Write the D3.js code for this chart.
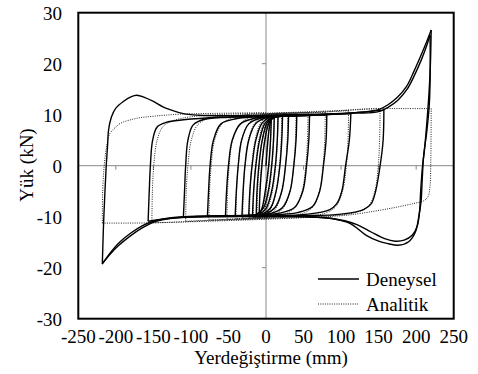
<!DOCTYPE html>
<html>
<head>
<meta charset="utf-8">
<script src="https://cdn.jsdelivr.net/npm/d3@7"></script>
<style>
body{margin:0;background:#fff}
</style>
</head>
<body>
<svg id="chart" width="478" height="374"></svg>
<script>
var width = 478, height = 374;
var plot = {left: 78.3, right: 453.7, top: 12.7, bottom: 318.7};
var font = "'Liberation Serif'";

var xTicks = [-250,-200,-150,-100,-50,0,50,100,150,200,250];
var yTicks = [-30,-20,-10,0,10,20,30];
var seriesNames = ["Deneysel","Analitik"];

// deneysel (experimental) branches, [displacement mm, load kN]
var deneysel = [
 [[0,0],[2,4],[4.5,7.5],[7,9.2]],
 [[7,9.2],[6,5],[3.5,0],[-1,-5],[-5,-8.2],[-9,-9.5]],
 [[-9,-9.5],[-8,-5],[-5.5,0],[-1.5,5],[4,8.4],[11,9.5]],
 [[11,9.5],[10,5],[7.5,0],[3,-5],[-3.5,-8.3],[-13,-9.6]],
 [[-13,-9.6],[-12,-5],[-9.5,0],[-5,5],[1.5,8.4],[8,9.3],[16,9.6]],
 [[16,9.6],[15,5],[12.5,0],[7.5,-5],[0,-8.4],[-8,-9.4],[-18,-9.7]],
 [[-18,-9.7],[-16.5,-5],[-13.5,0],[-8.5,5],[-1,8.4],[8,9.4],[22,9.7]],
 [[22,9.7],[21,5],[18.5,0],[13.5,-5],[6,-8.3],[-4,-9.4],[-23,-9.8]],
 [[-23,-9.8],[-21.5,-5],[-18.5,0],[-13.5,5],[-5.5,8.3],[4,9.4],[30,9.8]],
 [[30,9.8],[29,5],[26,0],[21,-5],[12,-8.2],[0,-9.4],[-32,-9.8]],
 [[-32,-9.8],[-30.5,-5],[-28,0],[-23,5],[-14,8.2],[0,9.4],[41,9.8]],
 [[41,9.8],[40,5],[37,0],[32,-5],[22,-8.2],[8,-9.3],[-20,-9.7],[-41,-9.8]],
 [[-41,-9.8],[-39.5,-5],[-37,0],[-32.5,5],[-23,8.2],[-8,9.3],[20,9.7],[58,9.9]],
 [[58,9.9],[57,5],[54,0],[49,-5],[38,-8.2],[18,-9.3],[-20,-9.7],[-54,-9.9]],
 [[-54,-9.9],[-52.5,-5],[-50,0],[-45,5],[-34,8.2],[-15,9.3],[20,9.7],[81,10]],
 [[81,10],[80,5],[76.5,0],[71.5,-5],[62,-8],[42,-9.2],[0,-9.7],[-78,-9.9]],
 [[-78,-9.9],[-76.5,-5],[-74.5,0],[-70,5],[-60,8.2],[-40,9.2],[0,9.7],[60,9.9],[113,10.2]],
 [[113,10.2],[111,5],[106,0],[101,-5],[94,-7.5],[85,-8.6],[56,-9.5],[0,-9.8],[-60,-9.8],[-110,-10]],
 [[-110,-10],[-108.5,-5],[-107,0],[-104,5],[-97,8],[-82,9.1],[-50,9.5],[0,9.7],[80,10],[157,10.9]],
 [[157,10.9],[156,5],[152,0],[146,-5],[140,-7.5],[130,-8.6],[100,-9.5],[50,-9.8],[-50,-9.8],[-120,-10.2],[-157,-10.9]],
 [[-157,-10.9],[-155.5,-5],[-154,0],[-151,5],[-145,7.6],[-133,8.5],[-110,9],[-60,9.5],[0,9.7],[80,10.1],[140,10.7],[150,11],[162,11.9],[175,13.4],[187,15.5],[197,18.5],[206,21.5],[214,24.3],[220,26.6]],
 [[220,26.6],[219,20],[217,14],[214,8],[211,3],[208.5,0],[206,-5],[204.5,-9],[201.5,-11.8],[195,-13.6],[184,-14.6],[172,-14.8],[158,-14.3],[140,-13],[122,-11.6],[105,-10.8],[85,-10.3],[40,-9.9],[0,-9.9],[-60,-9.9],[-110,-10],[-135,-10.4],[-150,-10.9],[-165,-11.8],[-180,-13.2],[-195,-15],[-208,-17.2],[-218,-19.3]],
 [[-218,-19.3],[-216.5,-12],[-214.5,-5],[-212.8,0],[-211,4],[-209.7,7],[-206,9.5],[-200,11.3],[-190,12.6],[-180,13.5],[-172,13.8],[-162,13.4],[-150,12.6],[-138,11.6],[-127.7,11],[-110,10.2],[-90,9.9],[-50,9.8],[0,9.9],[60,10.1],[120,10.3],[150,10.6],[163,11.5],[176,12.9],[188,15],[198,17.8],[207,20.8],[214,23.5],[218.5,25.6]],
 [[218.5,25.6],[218.7,18],[217.5,12],[214,6.5],[210,2],[208,-3],[206.5,-7],[203.5,-10],[199,-13],[190,-14.9],[176,-15.6],[163,-15.3],[150,-14.8],[133,-13.6],[113,-11.4],[96,-10.6],[80,-10.2],[40,-10],[0,-10],[-60,-10],[-110,-10.1],[-138,-10.6],[-152,-11.2],[-166,-12.3],[-181,-13.8],[-196,-15.6],[-208,-17.4],[-217,-19]]
];

// analitik (model) branches
var analitik = [
 [[0,0],[2,4.5],[4.5,8],[7,9.8]],
 [[7,9.8],[6.2,5],[4,0],[0,-5],[-4.5,-8.5],[-9,-10]],
 [[-9,-10],[-8.2,-5],[-6,0],[-2,5],[3.5,8.7],[11,10]],
 [[11,10],[10.2,5],[8,0],[4,-5],[-2.5,-8.6],[-12,-10.1]],
 [[-12,-10.1],[-11.2,-5],[-9,0],[-5,5],[1.5,8.6],[9,9.9],[16,10.1]],
 [[16,10.1],[15.2,5],[13,0],[8.5,-5],[1.5,-8.5],[-7,-9.9],[-17,-10.2]],
 [[-17,-10.2],[-16.2,-5],[-14,0],[-9.5,5],[-2.5,8.5],[7,9.9],[21,10.2]],
 [[21,10.2],[20.2,5],[18,0],[13.5,-5],[6,-8.5],[-5,-9.9],[-22,-10.3]],
 [[-22,-10.3],[-21.2,-5],[-19,0],[-14.5,5],[-7,8.4],[4,9.9],[29,10.2]],
 [[29,10.2],[28.2,5],[26,0],[21,-5],[13,-8.4],[1,-9.9],[-31,-10.3]],
 [[-31,-10.3],[-30.2,-5],[-28,0],[-23.5,5],[-15,8.3],[-1,9.9],[40,10.3]],
 [[40,10.3],[39.2,5],[37,0],[32,-5],[23,-8.3],[9,-9.8],[-20,-10.3],[-40,-10.4]],
 [[-40,-10.4],[-39.2,-5],[-37,0],[-32.5,5],[-23,8.3],[-9,9.8],[20,10.2],[56,10.4]],
 [[56,10.4],[55.2,5],[53,0],[48,-5],[38,-8.3],[19,-9.8],[-20,-10.3],[-52,-10.5]],
 [[-52,-10.5],[-51.2,-5],[-49,0],[-44.5,5],[-34,8.3],[-15,9.8],[20,10.2],[79,10.5]],
 [[79,10.5],[78.2,5],[76,0],[71,-5],[61,-8.3],[41,-9.7],[0,-10.3],[-76,-10.6]],
 [[-76,-10.6],[-75.2,-5],[-73,0],[-68.5,5],[-58,8.3],[-38,9.7],[0,10.2],[60,10.4],[110,10.8]],
 [[110,10.8],[109.2,5],[107,0],[102,-5],[93,-8],[79,-9.3],[50,-9.9],[0,-10.3],[-60,-10.6],[-107,-10.9]],
 [[-107,-10.9],[-106.2,-5],[-104,0],[-99.5,5],[-91,8],[-76,9.3],[-40,9.9],[0,10.2],[80,10.6],[130,11.1],[152,11.2]],
 [[152,11.2],[151.3,5],[149.5,0],[145,-5],[137,-7.8],[121,-9.1],[80,-9.9],[0,-10.4],[-80,-10.8],[-130,-11.1],[-152,-11.2]],
 [[-152,-11.2],[-151.3,-5],[-149.5,0],[-145,5],[-137,7.7],[-124,8.8],[-100,9.6],[-50,10.1],[0,10.3],[60,10.6],[110,10.9],[150,11.2],[185,11.2],[220,11.2]],
 [[220,11.2],[219.8,5],[219.4,0],[218.5,-4],[216,-6],[210,-6.9],[197,-7.4],[175,-8.1],[153,-8.7],[108,-9.7],[63,-10.1],[0,-10.5],[-80,-10.9],[-150,-11.2],[-185,-11.25],[-218,-11.25]],
 [[-218,-11.25],[-217.5,-5],[-215.5,0],[-212,4],[-208,6.3],[-200,7.6],[-194,8.3],[-172,9.3],[-150,9.7],[-114,10.1],[-50,10.3],[0,10.4]]
];

var x = d3.scaleLinear().domain([-250, 250]).range([plot.left, plot.right]);
var y = d3.scaleLinear().domain([-30, 30]).range([plot.bottom, plot.top]);

var svg = d3.select('#chart');

svg.append('clipPath').attr('id', 'clip')
  .append('rect')
    .attr('x', plot.left).attr('y', plot.top)
    .attr('width', plot.right - plot.left).attr('height', plot.bottom - plot.top);

// zero axes (gray) with small ticks
var grid = svg.append('g').attr('stroke', '#888').attr('stroke-width', 1);
grid.append('line')
  .attr('x1', plot.left).attr('x2', plot.right)
  .attr('y1', y(0)).attr('y2', y(0));
grid.append('line')
  .attr('x1', x(0)).attr('x2', x(0))
  .attr('y1', plot.top).attr('y2', plot.bottom);
grid.selectAll('.xt')
  .data(xTicks)
  .enter()
  .append('line')
    .attr('x1', d => x(d)).attr('x2', d => x(d))
    .attr('y1', y(0)).attr('y2', y(0) + 4);
grid.selectAll('.yt')
  .data(yTicks)
  .enter()
  .append('line')
    .attr('x1', x(0) - 4).attr('x2', x(0))
    .attr('y1', d => y(d)).attr('y2', d => y(d));

var line = d3.line()
  .x(d => x(d[0]))
  .y(d => y(d[1]))
  .curve(d3.curveCatmullRom.alpha(0.5));

var curves = svg.append('g').attr('clip-path', 'url(#clip)');

curves.selectAll('.ana')
  .data(analitik)
  .enter()
  .append('path')
    .attr('class', 'ana')
    .attr('d', line)
    .attr('fill', 'none')
    .attr('stroke', '#222')
    .attr('stroke-width', 1)
    .attr('stroke-dasharray', '1,1.3');

curves.selectAll('.den')
  .data(deneysel)
  .enter()
  .append('path')
    .attr('class', 'den')
    .attr('d', line)
    .attr('fill', 'none')
    .attr('stroke', '#000')
    .attr('stroke-width', 1.4)
    .attr('stroke-linejoin', 'round');

// frame
svg.append('rect')
  .attr('x', plot.left).attr('y', plot.top)
  .attr('width', plot.right - plot.left).attr('height', plot.bottom - plot.top)
  .attr('fill', 'none').attr('stroke', '#000').attr('stroke-width', 2);

// all texts in one group
var texts = svg.append('g');

texts.selectAll('.ylab')
  .data(yTicks)
  .enter()
  .append('text')
    .attr('class', 'ylab')
    .attr('x', 62)
    .attr('y', d => y(d) + 7)
    .attr('text-anchor', 'end')
    .attr('font-size', 19)
    .style('font-family', font)
    .text(d => d);

texts.selectAll('.xlab')
  .data(xTicks)
  .enter()
  .append('text')
    .attr('class', 'xlab')
    .attr('x', d => x(d))
    .attr('y', 343)
    .attr('text-anchor', 'middle')
    .attr('font-size', 19)
    .style('font-family', font)
    .text(d => d);

texts.append('text')
  .attr('x', 271).attr('y', 364)
  .attr('text-anchor', 'middle')
  .attr('font-size', 19)
  .style('font-family', font)
  .text('Yerdeğiştirme (mm)');

texts.append('text')
  .attr('transform', 'translate(33,165) rotate(-90)')
  .attr('text-anchor', 'middle')
  .attr('font-size', 19)
  .style('font-family', font)
  .text('Yük (kN)');

// legend
var legend = svg.append('g');
legend.append('line')
  .attr('x1', 318).attr('x2', 359).attr('y1', 279).attr('y2', 279)
  .attr('stroke', '#000').attr('stroke-width', 1.4);
legend.append('line')
  .attr('x1', 318).attr('x2', 359).attr('y1', 304).attr('y2', 304)
  .attr('stroke', '#222').attr('stroke-width', 1).attr('stroke-dasharray', '1,1.3');
legend.selectAll('text')
  .data(seriesNames)
  .enter()
  .append('text')
    .attr('x', 366)
    .attr('y', (d, i) => 286 + i * 25)
    .attr('font-size', 19)
    .style('font-family', font)
    .text(d => d);
</script>
</body>
</html>
